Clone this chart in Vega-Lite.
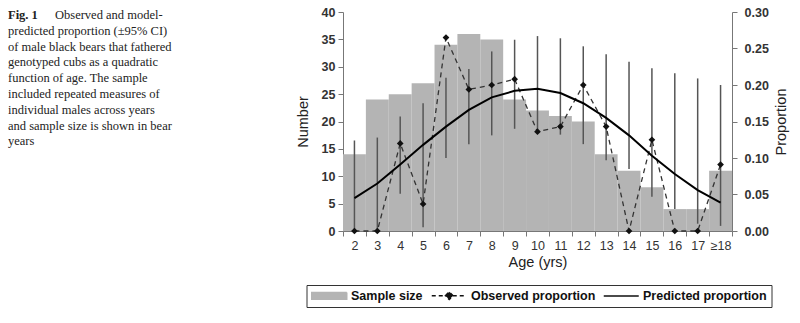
{
  "$schema": "https://vega.github.io/schema/vega-lite/v6.json",
  "padding": {"left": 8, "top": 6, "right": 5, "bottom": 5},
  "background": "white",
  "config": {
    "view": {"stroke": null},
    "font": "Liberation Sans"
  },
  "spacing": 0,
  "resolve": {"legend": {"color": "independent", "shape": "independent"}},
  "hconcat": [
    {
      "width": 287,
      "height": 219,
      "data": {"values": [
        {"line": 1, "text": "Observed and model-"},
        {"line": 2, "text": "predicted proportion (±95% CI)"},
        {"line": 3, "text": "of male black bears that fathered"},
        {"line": 4, "text": "genotyped cubs as a quadratic"},
        {"line": 5, "text": "function of age. The sample"},
        {"line": 6, "text": "included repeated measures of"},
        {"line": 7, "text": "individual males across years"},
        {"line": 8, "text": "and sample size is shown in bear"},
        {"line": 9, "text": "years"}
      ]},
      "encoding": {
        "x": {"datum": 0, "type": "quantitative", "scale": {"domain": [0, 1], "nice": false}, "axis": null},
        "y": {"field": "line", "type": "quantitative", "scale": {"domain": [0.816, 14.676], "reverse": true, "nice": false, "zero": false}, "axis": null}
      },
      "layer": [
        {
          "transform": [{"filter": "datum.line > 1"}],
          "mark": {"type": "text", "align": "left", "baseline": "middle", "font": "Liberation Serif", "fontSize": 12.5, "color": "#222"},
          "encoding": {"text": {"field": "text"}}
        },
        {
          "transform": [{"filter": "datum.line == 1"}],
          "mark": {"type": "text", "align": "left", "baseline": "middle", "font": "Liberation Serif", "fontSize": 12.5, "color": "#222", "dx": 47},
          "encoding": {"text": {"field": "text"}}
        },
        {
          "transform": [{"filter": "datum.line == 1"}],
          "mark": {"type": "text", "align": "left", "baseline": "middle", "font": "Liberation Serif", "fontSize": 12.5, "fontWeight": "bold", "color": "#222", "text": "Fig. 1"},
          "encoding": {}
        }
      ]
    },
    {
      "width": 389,
      "height": 219,
      "data": {"values": [
        {"age": "2", "n": 14, "obs": 0, "lo": 0, "hi": 0.124, "pred": 0.045},
        {"age": "3", "n": 24, "obs": 0, "lo": 0, "hi": 0.128, "pred": 0.065},
        {"age": "4", "n": 25, "obs": 0.12, "lo": 0.051, "hi": 0.157, "pred": 0.091},
        {"age": "5", "n": 27, "obs": 0.037, "lo": 0.005, "hi": 0.175, "pred": 0.118},
        {"age": "6", "n": 34, "obs": 0.265, "lo": 0.1, "hi": 0.21, "pred": 0.143},
        {"age": "7", "n": 36, "obs": 0.194, "lo": 0.119, "hi": 0.222, "pred": 0.166},
        {"age": "8", "n": 35, "obs": 0.2, "lo": 0.131, "hi": 0.246, "pred": 0.183},
        {"age": "9", "n": 24, "obs": 0.208, "lo": 0.14, "hi": 0.262, "pred": 0.192},
        {"age": "10", "n": 22, "obs": 0.136, "lo": 0.135, "hi": 0.267, "pred": 0.195},
        {"age": "11", "n": 21, "obs": 0.143, "lo": 0.132, "hi": 0.264, "pred": 0.189},
        {"age": "12", "n": 20, "obs": 0.2, "lo": 0.119, "hi": 0.253, "pred": 0.175},
        {"age": "13", "n": 14, "obs": 0.143, "lo": 0.097, "hi": 0.242, "pred": 0.155},
        {"age": "14", "n": 11, "obs": 0, "lo": 0.085, "hi": 0.232, "pred": 0.131},
        {"age": "15", "n": 8, "obs": 0.125, "lo": 0.047, "hi": 0.223, "pred": 0.103},
        {"age": "16", "n": 4, "obs": 0, "lo": 0.03, "hi": 0.216, "pred": 0.078},
        {"age": "17", "n": 4, "obs": 0, "lo": 0.01, "hi": 0.209, "pred": 0.056},
        {"age": "≥18", "n": 11, "obs": 0.091, "lo": 0.007, "hi": 0.2, "pred": 0.039}
      ]},
      "encoding": {
        "x": {
          "field": "age", "type": "ordinal", "sort": null, "title": "Age (yrs)",
          "scale": {"paddingInner": 0, "paddingOuter": 0},
          "axis": {"labelAngle": 0, "tickBand": "extent", "labelFontSize": 12.5, "labelColor": "#333", "labelPadding": 3,
                   "titleFontSize": 14.5, "titleFontWeight": "normal", "titleColor": "#222", "titlePadding": 4,
                   "domainColor": "#777", "tickColor": "#777", "tickSize": 5}
        }
      },
      "layer": [
        {
          "encoding": {
            "y": {"field": "n", "type": "quantitative", "title": "Number",
                  "scale": {"domain": [0, 40], "nice": false},
                  "axis": {"orient": "left", "values": [0, 5, 10, 15, 20, 25, 30, 35, 40], "tickCount": 20, "labelOverlap": false, "grid": false,
                           "labelFontSize": 12.5, "labelFontWeight": "bold", "labelColor": "#333", "labelPadding": 3,
                           "titleFontSize": 14.5, "titleFontWeight": "normal", "titleColor": "#222", "titlePadding": 11,
                           "domainColor": "#777", "tickColor": "#777", "tickSize": 5}}
          },
          "layer": [
            {
              "mark": {"type": "bar", "color": "#b4b4b4"}
            },
            {
              "data": {"values": [{}]},
              "mark": {"type": "text", "text": "χ²₂ = 8.2,", "fontSize": 12.5, "color": "#555", "baseline": "middle", "align": "right", "dx": -5},
              "encoding": {"x": {"datum": "10", "type": "ordinal", "bandPosition": 0.13}, "y": {"datum": 7.6, "type": "quantitative", "title": "Number"}}
            },
            {
              "data": {"values": [{}]},
              "mark": {"type": "text", "text": "P", "fontSize": 12.5, "fontStyle": "italic", "color": "#555", "baseline": "middle", "align": "left"},
              "encoding": {"x": {"datum": "10", "type": "ordinal", "bandPosition": 0.13}, "y": {"datum": 7.6, "type": "quantitative", "title": "Number"}}
            },
            {
              "data": {"values": [{}]},
              "mark": {"type": "text", "text": "= 0.02", "fontSize": 12.5, "color": "#555", "baseline": "middle", "align": "left", "dx": 11},
              "encoding": {"x": {"datum": "10", "type": "ordinal", "bandPosition": 0.13}, "y": {"datum": 7.6, "type": "quantitative", "title": "Number"}}
            },
            {
              "data": {"values": [{}]},
              "mark": {"type": "text", "text": "n", "fontSize": 12.5, "fontStyle": "italic", "color": "#555", "baseline": "middle", "align": "right", "dx": -4.5},
              "encoding": {"x": {"datum": "7", "type": "ordinal", "bandPosition": 0.33}, "y": {"datum": 4.5, "type": "quantitative", "title": "Number"}}
            },
            {
              "data": {"values": [{}]},
              "mark": {"type": "text", "text": "= 334 (102 individuals)", "fontSize": 12.5, "color": "#555", "baseline": "middle", "align": "left"},
              "encoding": {"x": {"datum": "7", "type": "ordinal", "bandPosition": 0.33}, "y": {"datum": 4.5, "type": "quantitative", "title": "Number"}}
            }
          ]
        },
        {
          "layer": [
            {
              "mark": {"type": "rule", "color": "#555", "strokeWidth": 1.5},
              "encoding": {
                "y": {"field": "lo", "type": "quantitative", "title": "Proportion",
                      "scale": {"domain": [0, 0.3], "nice": false},
                      "axis": {"orient": "right", "values": [0, 0.05, 0.1, 0.15, 0.2, 0.25, 0.3], "tickCount": 20, "labelOverlap": false, "format": ".2f", "grid": false,
                               "labelFontSize": 12.5, "labelFontWeight": "bold", "labelColor": "#333", "labelPadding": 7,
                               "titleFontSize": 14.5, "titleFontWeight": "normal", "titleColor": "#222", "titlePadding": 6, "titleAngle": 270, "titleBaseline": "top",
                               "domainColor": "#777", "tickColor": "#777", "tickSize": 5}},
                "y2": {"field": "hi"}
              }
            },
            {
              "mark": {"type": "line", "color": "#333", "strokeWidth": 1.3, "strokeDash": [5, 4]},
              "encoding": {"y": {"field": "obs", "type": "quantitative", "title": "Proportion"}}
            },
            {
              "mark": {"type": "point", "shape": "diamond", "filled": true, "color": "#111", "size": 45, "opacity": 1},
              "encoding": {"y": {"field": "obs", "type": "quantitative", "title": "Proportion"}}
            },
            {
              "mark": {"type": "line", "color": "#000", "strokeWidth": 2},
              "encoding": {"y": {"field": "pred", "type": "quantitative", "title": "Proportion"}}
            },
            {
              "data": {"values": [{"series": "Sample size"}, {"series": "Observed proportion"}, {"series": "Predicted proportion"}]},
              "mark": {"type": "point", "filled": true, "opacity": 0},
              "encoding": {
                "x": {"datum": "2", "type": "ordinal"},
                "y": {"datum": 0, "type": "quantitative", "title": "Proportion"},
                "color": {
                  "field": "series", "type": "nominal",
                  "scale": {"domain": ["Sample size", "Observed proportion", "Predicted proportion"], "range": ["#b4b4b4", "#111111", "#111111"]},
                  "legend": {
                    "orient": "none", "legendX": -36.5, "legendY": 273, "direction": "horizontal", "title": null,
                    "symbolSize": 100, "symbolOpacity": 1, "symbolStrokeWidth": 1.5,
                    "labelFont": "Liberation Sans", "labelFontSize": 12.5, "labelFontWeight": "bold", "labelColor": "#111",
                    "labelOffset": 28, "columnPadding": 5, "padding": 4, "strokeColor": "#333", "fillColor": "white",
                    "encode": {"symbols": {"update": {
                      "shape": {"scale": "shape", "field": "value"},
                      "fill": {"scale": "color", "field": "value"},
                      "stroke": {"scale": "color", "field": "value"},
                      "opacity": {"value": 1},
                      "strokeWidth": {"value": 1.5},
                      "strokeDash": {"signal": "datum.value === 'Observed proportion' ? [4, 3] : [1, 0]"}
                    }}}
                  }
                },
                "shape": {
                  "field": "series", "type": "nominal",
                  "scale": {"domain": ["Sample size", "Observed proportion", "Predicted proportion"],
                            "range": ["M-1,-0.67H6V0.67H-1Z", "M-1,0H6M1.73,0L2.5,-0.77L3.27,0L2.5,0.77Z", "M-1,0H6"]},
                  "legend": null
                }
              }
            }
          ]
        }
      ],
      "resolve": {"scale": {"y": "independent"}}
    }
  ]
}
